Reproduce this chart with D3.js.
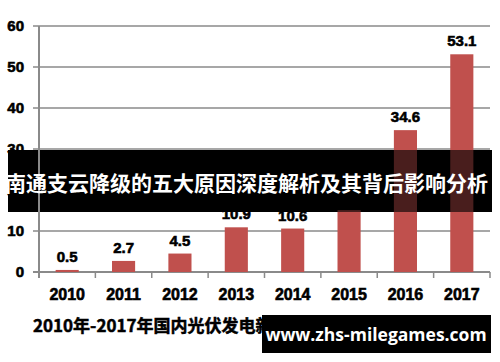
<!DOCTYPE html>
<meta charset="utf-8">
<style>
body { margin: 0; background: #fff; }
svg { display: block; font-family: "Liberation Sans", Arial, sans-serif; }
.num { font-weight: bold; fill: #000; stroke: #000; stroke-width: 0.6; }
</style>
<body>
<script src="https://d3js.org/d3.v7.min.js"></script>
<script>
var years = ["2010", "2011", "2012", "2013", "2014", "2015", "2016", "2017"];
var values = [0.5, 2.7, 4.5, 10.9, 10.6, 15.1, 34.6, 53.1];
var yTicks = [0, 10, 20, 30, 40, 50, 60];
var bannerText = "南通支云降级的五大原因深度解析及其背后影响分析";
var captionText = "2010年-2017年国内光伏发电新增装机容量";
var watermarkText = "www.zhs-milegames.com";

var width = 500, height = 362;
var plotLeft = 39, plotRight = 490, plotTop = 26, plotBottom = 272;
var gridColor = "#8a8a8a", barColor = "#c0504d";

var svg = d3.select("body").append("svg")
  .attr("width", width)
  .attr("height", height);

var x = d3.scaleBand()
  .domain(years)
  .range([plotLeft, plotRight])
  .paddingInner(0.59)
  .paddingOuter(0.295);

var y = d3.scaleLinear()
  .domain([0, 60])
  .range([plotBottom, plotTop]);

// gridlines
svg.append("g").selectAll("line")
  .data(yTicks)
  .enter().append("line")
  .attr("x1", plotLeft - 6)
  .attr("x2", plotRight)
  .attr("y1", function(d) { return y(d); })
  .attr("y2", function(d) { return y(d); })
  .attr("stroke", gridColor)
  .attr("stroke-width", function(d) { return d === 0 ? 2 : 1.5; });

// y tick labels
svg.append("g").selectAll("text")
  .data(yTicks)
  .enter().append("text")
  .attr("class", "num")
  .attr("x", 24)
  .attr("y", function(d) { return y(d); })
  .attr("dy", "0.36em")
  .attr("text-anchor", "end")
  .attr("font-size", 15)
  .text(function(d) { return d; });

// category boundary ticks
var step = x.step();
var bounds = years.map(function(d) { return x(d) + x.bandwidth() / 2 - step / 2; });
bounds.push(plotRight);
svg.append("g").selectAll("line")
  .data(bounds)
  .enter().append("line")
  .attr("x1", function(d) { return d; })
  .attr("x2", function(d) { return d; })
  .attr("y1", plotBottom)
  .attr("y2", plotBottom + 6)
  .attr("stroke", gridColor)
  .attr("stroke-width", 1.5);

// bars
svg.append("g").selectAll("rect")
  .data(values)
  .enter().append("rect")
  .attr("x", function(d, i) { return x(years[i]); })
  .attr("width", x.bandwidth())
  .attr("y", function(d) { return y(d); })
  .attr("height", function(d) { return y(0) - y(d); })
  .attr("fill", barColor);

// value labels
svg.append("g").selectAll("text")
  .data(values)
  .enter().append("text")
  .attr("class", "num")
  .attr("x", function(d, i) { return x(years[i]) + x.bandwidth() / 2; })
  .attr("y", function(d) { return y(d) - 8; })
  .attr("text-anchor", "middle")
  .attr("font-size", 15)
  .text(function(d) { return d; });

// x labels
svg.append("g").selectAll("text")
  .data(years)
  .enter().append("text")
  .attr("class", "num")
  .attr("x", function(d) { return x(d) + x.bandwidth() / 2; })
  .attr("y", 300)
  .attr("text-anchor", "middle")
  .attr("font-size", 16)
  .text(function(d) { return d; });

// caption under chart
svg.append("text")
  .attr("x", 33)
  .attr("y", 332)
  .attr("font-size", 17)
  .attr("font-weight", "bold")
  .attr("font-family", "'Noto Sans CJK SC', sans-serif")
  .attr("fill", "#000")
  .attr("stroke", "#000")
  .attr("stroke-width", 0.5)
  .text(captionText);

// banner across the chart
var bTop = 150, bBottom = 212;
svg.append("rect")
  .attr("x", 8)
  .attr("y", bTop)
  .attr("width", 484)
  .attr("height", bBottom - bTop)
  .attr("fill", "#000");

svg.append("clipPath").attr("id", "bclip")
  .append("rect")
  .attr("x", 8).attr("y", bTop)
  .attr("width", 484).attr("height", bBottom - bTop);

svg.append("g")
  .attr("clip-path", "url(#bclip)")
  .selectAll("rect")
  .data(values)
  .enter().append("rect")
  .attr("x", function(d, i) { return x(years[i]); })
  .attr("width", x.bandwidth())
  .attr("y", function(d) { return y(d); })
  .attr("height", function(d) { return y(0) - y(d); })
  .attr("fill", barColor)
  .attr("opacity", 0.38);

// y axis line
svg.append("line")
  .attr("x1", plotLeft).attr("x2", plotLeft)
  .attr("y1", plotTop).attr("y2", plotBottom + 6)
  .attr("stroke", gridColor)
  .attr("stroke-width", 2);

svg.append("text")
  .attr("x", 5)
  .attr("y", 183)
  .attr("dy", "0.36em")
  .attr("font-size", 21)
  .attr("font-weight", "bold")
  .attr("font-family", "'Noto Sans CJK SC', sans-serif")
  .attr("fill", "#fff")
  .text(bannerText);

// watermark box
svg.append("rect")
  .attr("x", 262)
  .attr("y", 315)
  .attr("width", 229)
  .attr("height", 38)
  .attr("fill", "#000");

svg.append("text")
  .attr("x", 376)
  .attr("y", 335)
  .attr("dy", "0.36em")
  .attr("text-anchor", "middle")
  .attr("font-size", 17.5)
  .attr("font-weight", "bold")
  .attr("font-family", "'Open Sans', sans-serif")
  .attr("fill", "#fff")
  .text(watermarkText);
</script>
</body>
